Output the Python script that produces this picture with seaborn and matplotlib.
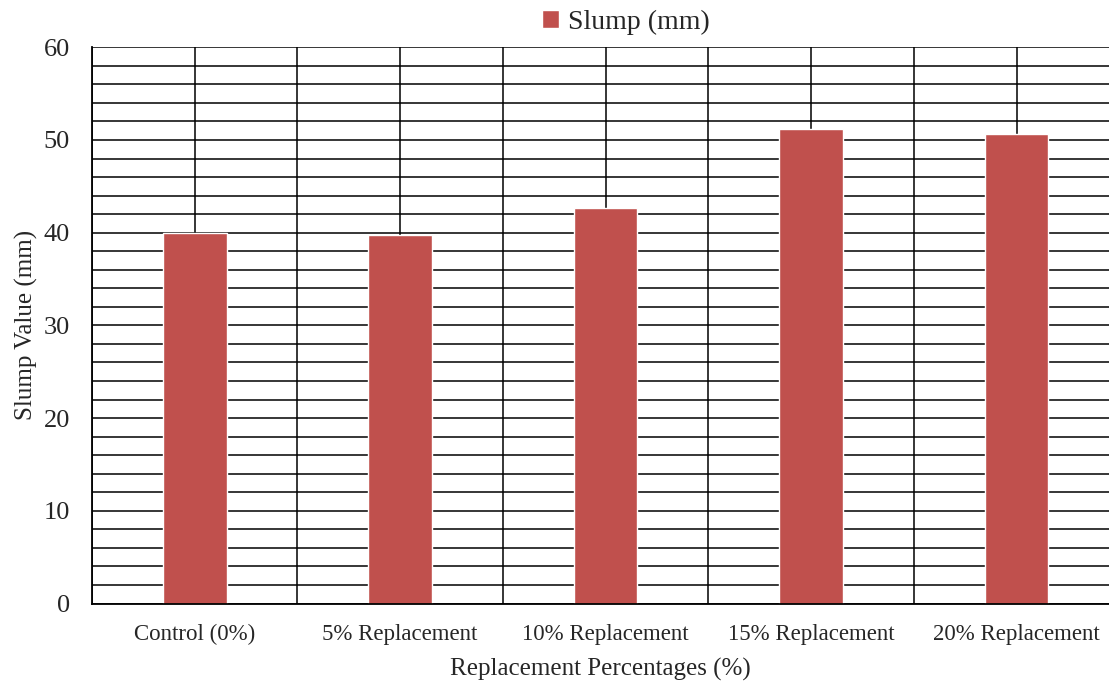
import matplotlib
matplotlib.use("Agg")
import matplotlib.pyplot as plt
from matplotlib.ticker import MultipleLocator
import seaborn as sns
import pandas as pd

categories = ["Control (0%)", "5% Replacement", "10% Replacement",
              "15% Replacement", "20% Replacement"]
slump_mm = [40.0, 39.7, 42.7, 51.2, 50.7]
series_name = "Slump (mm)"

sns.set_theme(style="white")
plt.rcParams["font.family"] = ["Liberation Serif", "DejaVu Serif"]

df = pd.DataFrame({"category": categories, "slump": slump_mm})

fig = plt.figure(figsize=(11.09, 6.85), dpi=100)
ax = fig.add_axes([92 / 1109, 1 - 603.5 / 685, 1 - 92 / 1109, (603.5 - 47.3) / 685])

sns.barplot(data=df, x="category", y="slump", color="#C0504D",
            width=0.31, saturation=1, ax=ax, label=series_name)

ax.set_ylim(0, 60)
ax.set_xlim(-0.5, 4.45)
ax.yaxis.set_major_locator(MultipleLocator(10))
ax.yaxis.set_minor_locator(MultipleLocator(2))
ax.xaxis.set_minor_locator(MultipleLocator(0.5))
ax.set_axisbelow(True)
ax.grid(which="both", axis="both", color="black", linewidth=1.1)
ax.tick_params(which="both", length=0)
ax.tick_params(axis="y", labelsize=19, pad=16)
ax.tick_params(axis="x", labelsize=16.5, pad=15)

for side in ["top", "right"]:
    ax.spines[side].set_visible(False)
for side in ["left", "bottom"]:
    ax.spines[side].set_color("black")
    ax.spines[side].set_linewidth(1.3)

ax.set_xlabel("Replacement Percentages (%)", fontsize=18, labelpad=9)
ax.set_ylabel("Slump Value (mm)", fontsize=18, labelpad=4)

if ax.get_legend() is not None:
    ax.get_legend().remove()
handles, labels = ax.get_legend_handles_labels()
fig.legend(handles, labels, loc="upper center", bbox_to_anchor=(626 / 1109, 1.022),
           frameon=False, fontsize=20, handlelength=0.6, handleheight=0.6,
           handletextpad=0.35)

fig.savefig("out.png", dpi=100)
